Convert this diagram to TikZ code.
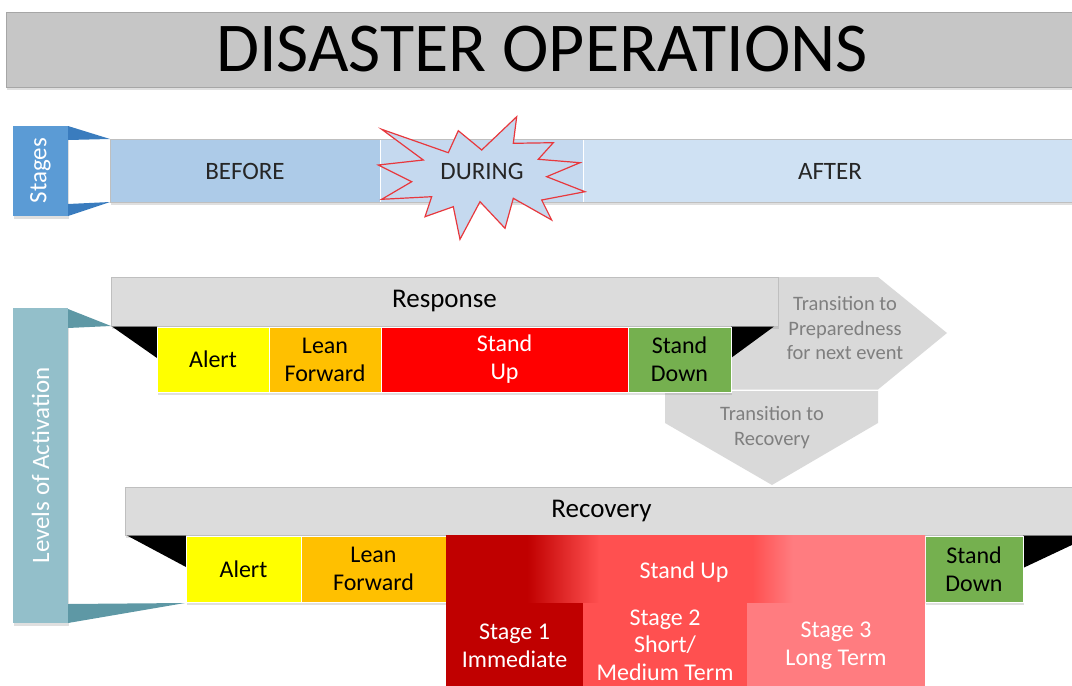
\documentclass[tikz,border=0pt]{standalone}
\usepackage{fontspec}
\setmainfont{Carlito}
\usetikzlibrary{shadows}
\definecolor{titlegray}{HTML}{C6C6C6}
\definecolor{titleborder}{HTML}{A6A6A6}
\definecolor{stagetab}{HTML}{5B9BD5}
\definecolor{stagetri}{HTML}{3A7CBE}
\definecolor{before}{HTML}{ADCBE8}
\definecolor{during}{HTML}{C5D9EF}
\definecolor{after}{HTML}{CFE1F3}
\definecolor{levtab}{HTML}{93BFCA}
\definecolor{levtri}{HTML}{5E98A5}
\definecolor{hdr}{HTML}{DCDCDC}
\definecolor{hdrborder}{HTML}{BFBFBF}
\definecolor{yel}{HTML}{FFFF00}
\definecolor{org}{HTML}{FFC000}
\definecolor{brightred}{HTML}{FF0000}
\definecolor{grn}{HTML}{75B04F}
\definecolor{trans}{HTML}{D9D9D9}
\definecolor{transtext}{HTML}{7F7F7F}
\definecolor{dkred}{HTML}{C00000}
\definecolor{midred}{HTML}{FF5050}
\definecolor{ltred}{HTML}{FF7C80}
\definecolor{starred}{HTML}{E8383D}
\definecolor{stagetext}{HTML}{262626}
\pgfdeclarehorizontalshading{standupshade}{100bp}{color(0bp)=(dkred); color(33.5bp)=(dkred); color(41bp)=(midred); color(57bp)=(midred); color(61.2bp)=(ltred); color(100bp)=(ltred)}
\begin{document}
\begin{tikzpicture}[x=1pt,y=-1pt,
  shad/.style={drop shadow={opacity=0.25, shadow xshift=1pt, shadow yshift=-3pt}},
  lbl/.style={font=\fontsize{24}{28}\selectfont, align=center, text=black},
  cell/.style={inner sep=0pt, draw=white, line width=0.6pt, lbl, shad},
  hdrbar/.style={inner sep=0pt, fill=hdr, draw=hdrborder, line width=0.6pt, shad,
    font=\fontsize{27}{32}\selectfont, text=black},
  stagelbl/.style={inner sep=0pt, font=\fontsize{25}{30}\selectfont, text=stagetext},
  tab/.style={inner sep=0pt, rotate=90, text=white, font=\fontsize{25}{30}\selectfont, shad},
  transtxt/.style={align=center, text=transtext, font=\fontsize{20.5}{24.5}\selectfont},
  redtxt/.style={align=center, text=white, font=\fontsize{24}{27.5}\selectfont}]
\useasboundingbox (0,0) rectangle (1072,686);
\clip (0,0) rectangle (1072,686);

% Title
\node[inner sep=0pt, fill=titlegray, draw=titleborder, line width=0.6pt, shad,
  minimum width=1072pt, minimum height=75pt,
  font=\fontsize{70}{84}\selectfont] (title) at (542,49.5) {DISASTER OPERATIONS};

% Stages
\node[tab, fill=stagetab, minimum width=90pt, minimum height=55pt] (stagestab) at (40.5,170.5) {Stages};
\fill[stagetri] (68,126) -- (110,139) -- (68,140) -- cycle;
\fill[stagetri] (68,204) -- (110,202) -- (68,216) -- cycle;
\node[inner sep=0pt, fill=after, shad, minimum width=970pt, minimum height=63pt] (stagebar) at (595,170.5) {};
\node[inner sep=0pt, fill=before, minimum width=270pt, minimum height=63pt] (beforebox) at (245,170.5) {};
\node[inner sep=0pt, fill=during, minimum width=203pt, minimum height=63pt] (duringbox) at (481.5,170.5) {};
\draw[white, line width=1pt] (380,139.5) -- (380,201.5) (583,139.5) -- (583,201.5);
\draw[hdrborder, line width=0.6pt] (stagebar.north west) rectangle (stagebar.south east);
\node[stagelbl] (beforelbl) at (245,171) {BEFORE};
\node[stagelbl] (afterlbl) at (830,171) {AFTER};
\filldraw[fill=during, draw=starred, line width=1.2pt, line join=miter]
  (381.7,129.3) -- (448.3,152.7) -- (458.3,130.7) -- (481.7,150) -- (516.7,116.7)
  -- (513.3,143.3) -- (553.3,142.7) -- (538.3,159.3) -- (580,162.7) -- (546.7,176.7)
  -- (585,191.7) -- (541.7,200) -- (551.7,220) -- (513.3,198.3) -- (505,228.3)
  -- (480,201.7) -- (460,239.3) -- (453.3,206.7) -- (425,216.7) -- (431.7,196.7)
  -- (381.7,199.3) -- (411.7,181.7) -- (378.3,165) -- (423.3,160) -- cycle;
\node[stagelbl] (duringlbl) at (482,171) {DURING};

% Levels of Activation tab
\node[tab, fill=levtab, minimum width=315pt, minimum height=55pt] (levtab) at (40.5,465.5) {Levels of Activation};
\fill[levtri] (68,309) -- (111,326) -- (68,328) -- cycle;
\fill[levtri] (68,604) -- (185,603) -- (68,623) -- cycle;

% Transition shapes
\fill[trans] (665,391) -- (878,391) -- (878,423) -- (772,485) -- (665,423) -- cycle;
\fill[trans] (665,277) -- (878,277) -- (947,333) -- (878,389.5) -- (665,389.5) -- cycle;
\node[transtxt] (toprep) at (845,328) {Transition to\\Preparedness\\for next event};
\node[transtxt] (torec) at (772,427.5) {Transition to\\Recovery};

% Response
\node[hdrbar, minimum width=667pt, minimum height=49pt] (resp) at (444.5,301.5) {Response};
\fill[black] (112,326.5) -- (157,326.5) -- (157,358) -- cycle;
\fill[black] (731,326.5) -- (774,326.5) -- (731,358) -- cycle;
\node[cell, fill=yel, minimum width=112pt, minimum height=65pt] (ralert) at (213,359.5) {Alert};
\node[cell, fill=org, minimum width=112pt, minimum height=65pt] (rlean) at (325,359.5) {Lean\\Forward};
\node[cell, fill=brightred, minimum width=247pt, minimum height=65pt, text=white] (rup) at (504.5,359.5) {Stand\\Up};
\node[cell, fill=grn, minimum width=103pt, minimum height=65pt] (rdown) at (679.5,359.5) {Stand\\Down};

% Recovery
\node[hdrbar, minimum width=953pt, minimum height=48pt] (rec) at (601.5,511) {Recovery};
\fill[black] (127,535.5) -- (186,535.5) -- (186,567) -- cycle;
\fill[black] (1023,535.5) -- (1092,535.5) -- (1023,568) -- cycle;
\node[cell, fill=yel, minimum width=115pt, minimum height=66pt] (calert) at (243.5,569) {Alert};
\node[cell, fill=org, minimum width=145pt, minimum height=66pt] (clean) at (373.5,569) {Lean\\Forward};
\node[cell, fill=grn, minimum width=98pt, minimum height=66pt] (cdown) at (974,569) {Stand\\Down};

\shade[shading=standupshade] (446,535.5) rectangle (925,603);
\fill[dkred] (446,603) rectangle (583,690);
\fill[midred] (583,603) rectangle (747,690);
\fill[ltred] (747,603) rectangle (925,690);
\node[redtxt] (cup) at (684,572) {Stand Up};
\node[redtxt] (st1) at (514.5,646) {Stage 1\\Immediate};
\node[redtxt] (st2) at (665,645) {Stage 2\\Short/\\Medium Term};
\node[redtxt] (st3) at (836,646) {Stage 3\\Long Term};
\end{tikzpicture}
\end{document}
